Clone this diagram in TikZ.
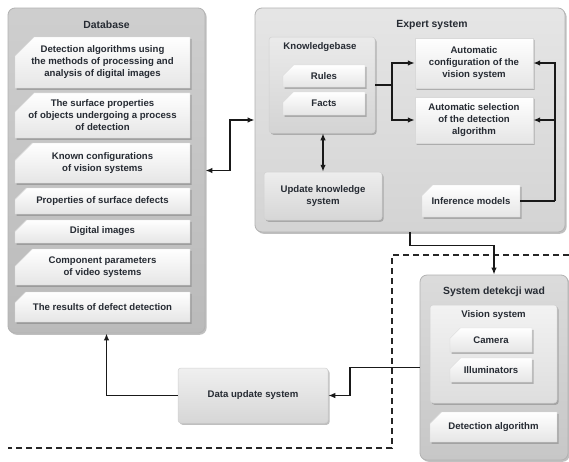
\documentclass[tikz,border=0pt]{standalone}
\usepackage{fontspec}
\setmainfont{Liberation Sans}
\usetikzlibrary{arrows.meta,shapes.misc,shadows}
\definecolor{txtc}{HTML}{262B33}
\newcommand\itf{\fontsize{9.6}{12}\selectfont\bfseries}
\newcommand\ttf{\fontsize{10.4}{12.5}\selectfont\bfseries}
\tikzset{
  shd/.style={drop shadow={shadow xshift=1.6pt, shadow yshift=-1.8pt, opacity=.45, fill=black!55}},
  cont/.style={rectangle, rounded corners=7pt, inner sep=0pt, draw=black!30, line width=.8pt, shd},
  sub/.style={rectangle, rounded corners=3pt, inner sep=0pt, draw=black!18, line width=.5pt, shd},
  itembox/.style={chamfered rectangle, chamfered rectangle corners=north west,
     chamfered rectangle xsep=12pt, chamfered rectangle ysep=7pt,
     inner sep=0pt, draw=black!15, line width=.4pt, top color=white, bottom color=black!10, shd,
     font=\itf, text=txtc, align=center},
  ttl/.style={font=\ttf, text=txtc, align=center, inner sep=1pt},
  ltxt/.style={font=\itf, text=txtc, align=center},
  arr/.style={-{Latex[length=7pt,width=5.5pt]}, line width=1.6pt, black!90},
  darr/.style={{Latex[length=7pt,width=5.5pt]}-{Latex[length=7pt,width=5.5pt]}, line width=1.6pt, black!90},
  ln/.style={line width=1.6pt, black!90},
  dashline/.style={line width=1.3pt, black!85, dash pattern=on 6pt off 4pt}
}
\begin{document}
\begin{tikzpicture}[x=1pt,y=-1pt]
\useasboundingbox[fill=white] (0,0) rectangle (569,461);

% dashed frame
\coordinate (f1) at (569,255);
\coordinate (f2) at (392,255);
\coordinate (f3) at (392,448);
\coordinate (f4) at (8,448);
\draw[dashline] (f1) -- (f2) -- (f3) -- (f4);

% ---------- Database ----------
\node[cont, top color=black!19, bottom color=black!27, minimum width=197pt, minimum height=325pt] (db) at (106.5,170.5) {};
\node[ttl] (dbt) at (106.5,25) {Database};
\node[itembox, minimum width=175pt, minimum height=51pt] (d1) at (102.5,62.5) {Detection algorithms using\\the methods of processing and\\analysis of digital images};
\node[itembox, minimum width=175pt, minimum height=39pt] (d2) at (102.5,115.5) {The surface properties\\of objects undergoing a process\\of detection};
\node[itembox, minimum width=175pt, minimum height=40pt] (d3) at (102.5,163) {Known configurations\\of vision systems};
\node[itembox, minimum width=175pt, minimum height=26pt] (d4) at (102.5,201) {Properties of surface defects};
\node[itembox, minimum width=175pt, minimum height=23pt] (d5) at (102.5,231.5) {Digital images};
\node[itembox, minimum width=175pt, minimum height=36pt] (d6) at (102.5,267) {Component parameters\\of video systems};
\node[itembox, minimum width=175pt, minimum height=30pt] (d7) at (102.5,307) {The results of defect detection};

% ---------- Expert system ----------
\node[cont, top color=black!10, bottom color=black!17, minimum width=310pt, minimum height=224pt] (es) at (410,120) {};
\node[ttl] (est) at (432,25) {Expert system};
\node[sub, top color=black!8, bottom color=black!17, minimum width=106pt, minimum height=96pt] (kb) at (322,85) {};
\node[ltxt] (kbt) at (320,47) {Knowledgebase};
\node[itembox, minimum width=82pt, minimum height=22pt] (rules) at (324,76) {Rules};
\node[itembox, minimum width=82pt, minimum height=23pt] (facts) at (324,103.5) {Facts};
\node[itembox, chamfered rectangle xsep=0pt, chamfered rectangle ysep=0pt, minimum width=118pt, minimum height=50pt] (ac) at (474,63) {Automatic\\configuration of the\\vision system};
\node[itembox, chamfered rectangle xsep=0pt, chamfered rectangle ysep=0pt, minimum width=118pt, minimum height=46pt] (as) at (474,120) {Automatic selection\\of the detection\\algorithm};
\node[sub, top color=black!7, bottom color=black!16, minimum width=118pt, minimum height=48pt, ltxt] (uk) at (323,196) {Update knowledge\\system};
\node[itembox, minimum width=98pt, minimum height=32pt] (inf) at (471,201) {Inference models};

% ---------- System detekcji wad ----------
\node[cont, top color=black!14, bottom color=black!22, minimum width=148pt, minimum height=185pt] (sdw) at (494,367.5) {};
\node[ttl] (sdwt) at (494,292) {System detekcji wad};
\node[sub, top color=black!5, bottom color=black!13, minimum width=127pt, minimum height=98pt] (vs) at (493.5,354) {};
\node[ltxt] (vst) at (493.5,315) {Vision system};
\node[itembox, minimum width=82pt, minimum height=24pt] (cam) at (491,340) {Camera};
\node[itembox, minimum width=82pt, minimum height=24pt] (ill) at (491,370) {Illuminators};
\node[itembox, minimum width=127pt, minimum height=30pt] (da) at (493.5,427) {Detection algorithm};

% ---------- Data update system ----------
\node[sub, top color=black!6, bottom color=black!16, minimum width=150pt, minimum height=55pt, ltxt] (dus) at (253,395.5) {Data update system};

% ---------- connectors ----------
\coordinate (m1) at (230,0);
\coordinate (br) at (392,85);
\coordinate (rb) at (555,201);
\coordinate (m2) at (350,0);
\draw[darr] (db.east) -- (db.east -| m1) |- (es.west);
\draw[ln] (kb.east) -- (br);
\draw[arr] (br) |- (ac.west);
\draw[arr] (br) |- (as.west);
\draw[ln] (inf.east) -- (rb);
\draw[arr] (rb) |- (ac.east);
\draw[arr] (rb) |- (as.east);
\draw[darr] (uk.north) -- (uk.north |- kb.south);
\draw[arr] (es.south) -- ++(0,13) -| (sdw.north);
\draw[arr] (sdw.west) -- (sdw.west -| m2) |- (dus.east);
\draw[arr] (dus.west) -| (db.south);
\end{tikzpicture}
\end{document}
